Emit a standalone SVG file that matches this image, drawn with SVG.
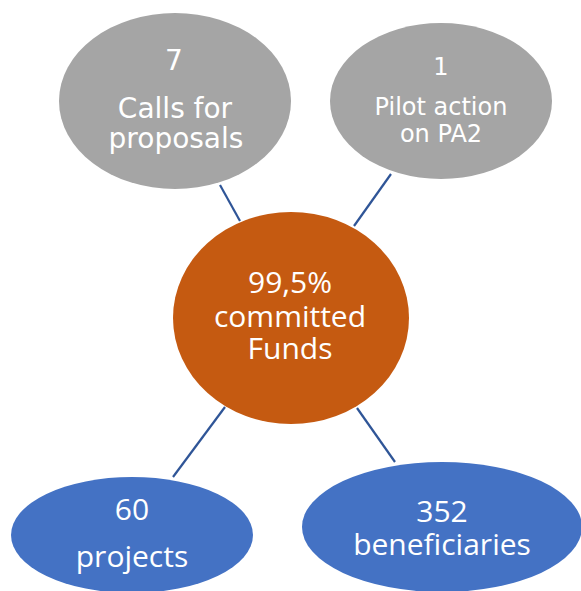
<svg xmlns="http://www.w3.org/2000/svg" width="581" height="591" viewBox="0 0 581 591">
<style>
.gray{fill:#A5A5A5}
.orange{fill:#C55A11}
.blue{fill:#4472C4}
.t1{font-family:"DejaVu Sans",Verdana,sans-serif;fill:#fff;text-anchor:middle}
.t2{font-family:"Open Sans","Noto Sans",sans-serif;fill:#fff;text-anchor:middle}
.ln{stroke:#2F5597;stroke-width:2.2;fill:none}
</style>
<rect width="581" height="591" fill="#fff"/>
<g id="connectors">
<line class="ln" x1="220" y1="185" x2="240" y2="221"/>
<line class="ln" x1="391" y1="174" x2="354" y2="226"/>
<line class="ln" x1="225" y1="407" x2="173" y2="477"/>
<line class="ln" x1="357" y1="408" x2="395" y2="462"/>
</g>
<g id="calls">
<ellipse class="gray" cx="175" cy="101" rx="116" ry="88"/>
<text class="t1" font-size="28" x="174" y="70">7</text>
<text class="t1" font-size="28" x="175" y="118">Calls for</text>
<text class="t1" font-size="28" x="176" y="148">proposals</text>
</g>
<g id="pilot">
<ellipse class="gray" cx="441" cy="101" rx="111" ry="78"/>
<text class="t1" font-size="24" x="441" y="75">1</text>
<text class="t1" font-size="24" x="441" y="115">Pilot action</text>
<text class="t1" font-size="24" x="441" y="142">on PA2</text>
</g>
<g id="funds">
<ellipse class="orange" cx="291" cy="318" rx="118" ry="106"/>
<text class="t2" font-size="30" x="290" y="293">99,5%</text>
<text class="t2" font-size="30" x="290" y="327">committed</text>
<text class="t2" font-size="30" x="290" y="359">Funds</text>
</g>
<g id="projects">
<ellipse class="blue" cx="132" cy="535" rx="121" ry="58"/>
<text class="t2" font-size="30" x="132" y="520">60</text>
<text class="t2" font-size="30" x="132" y="567">projects</text>
</g>
<g id="beneficiaries">
<ellipse class="blue" cx="442" cy="527" rx="140" ry="65"/>
<text class="t2" font-size="30" x="442" y="522">352</text>
<text class="t2" font-size="30" x="442" y="555">beneficiaries</text>
</g>
</svg>
